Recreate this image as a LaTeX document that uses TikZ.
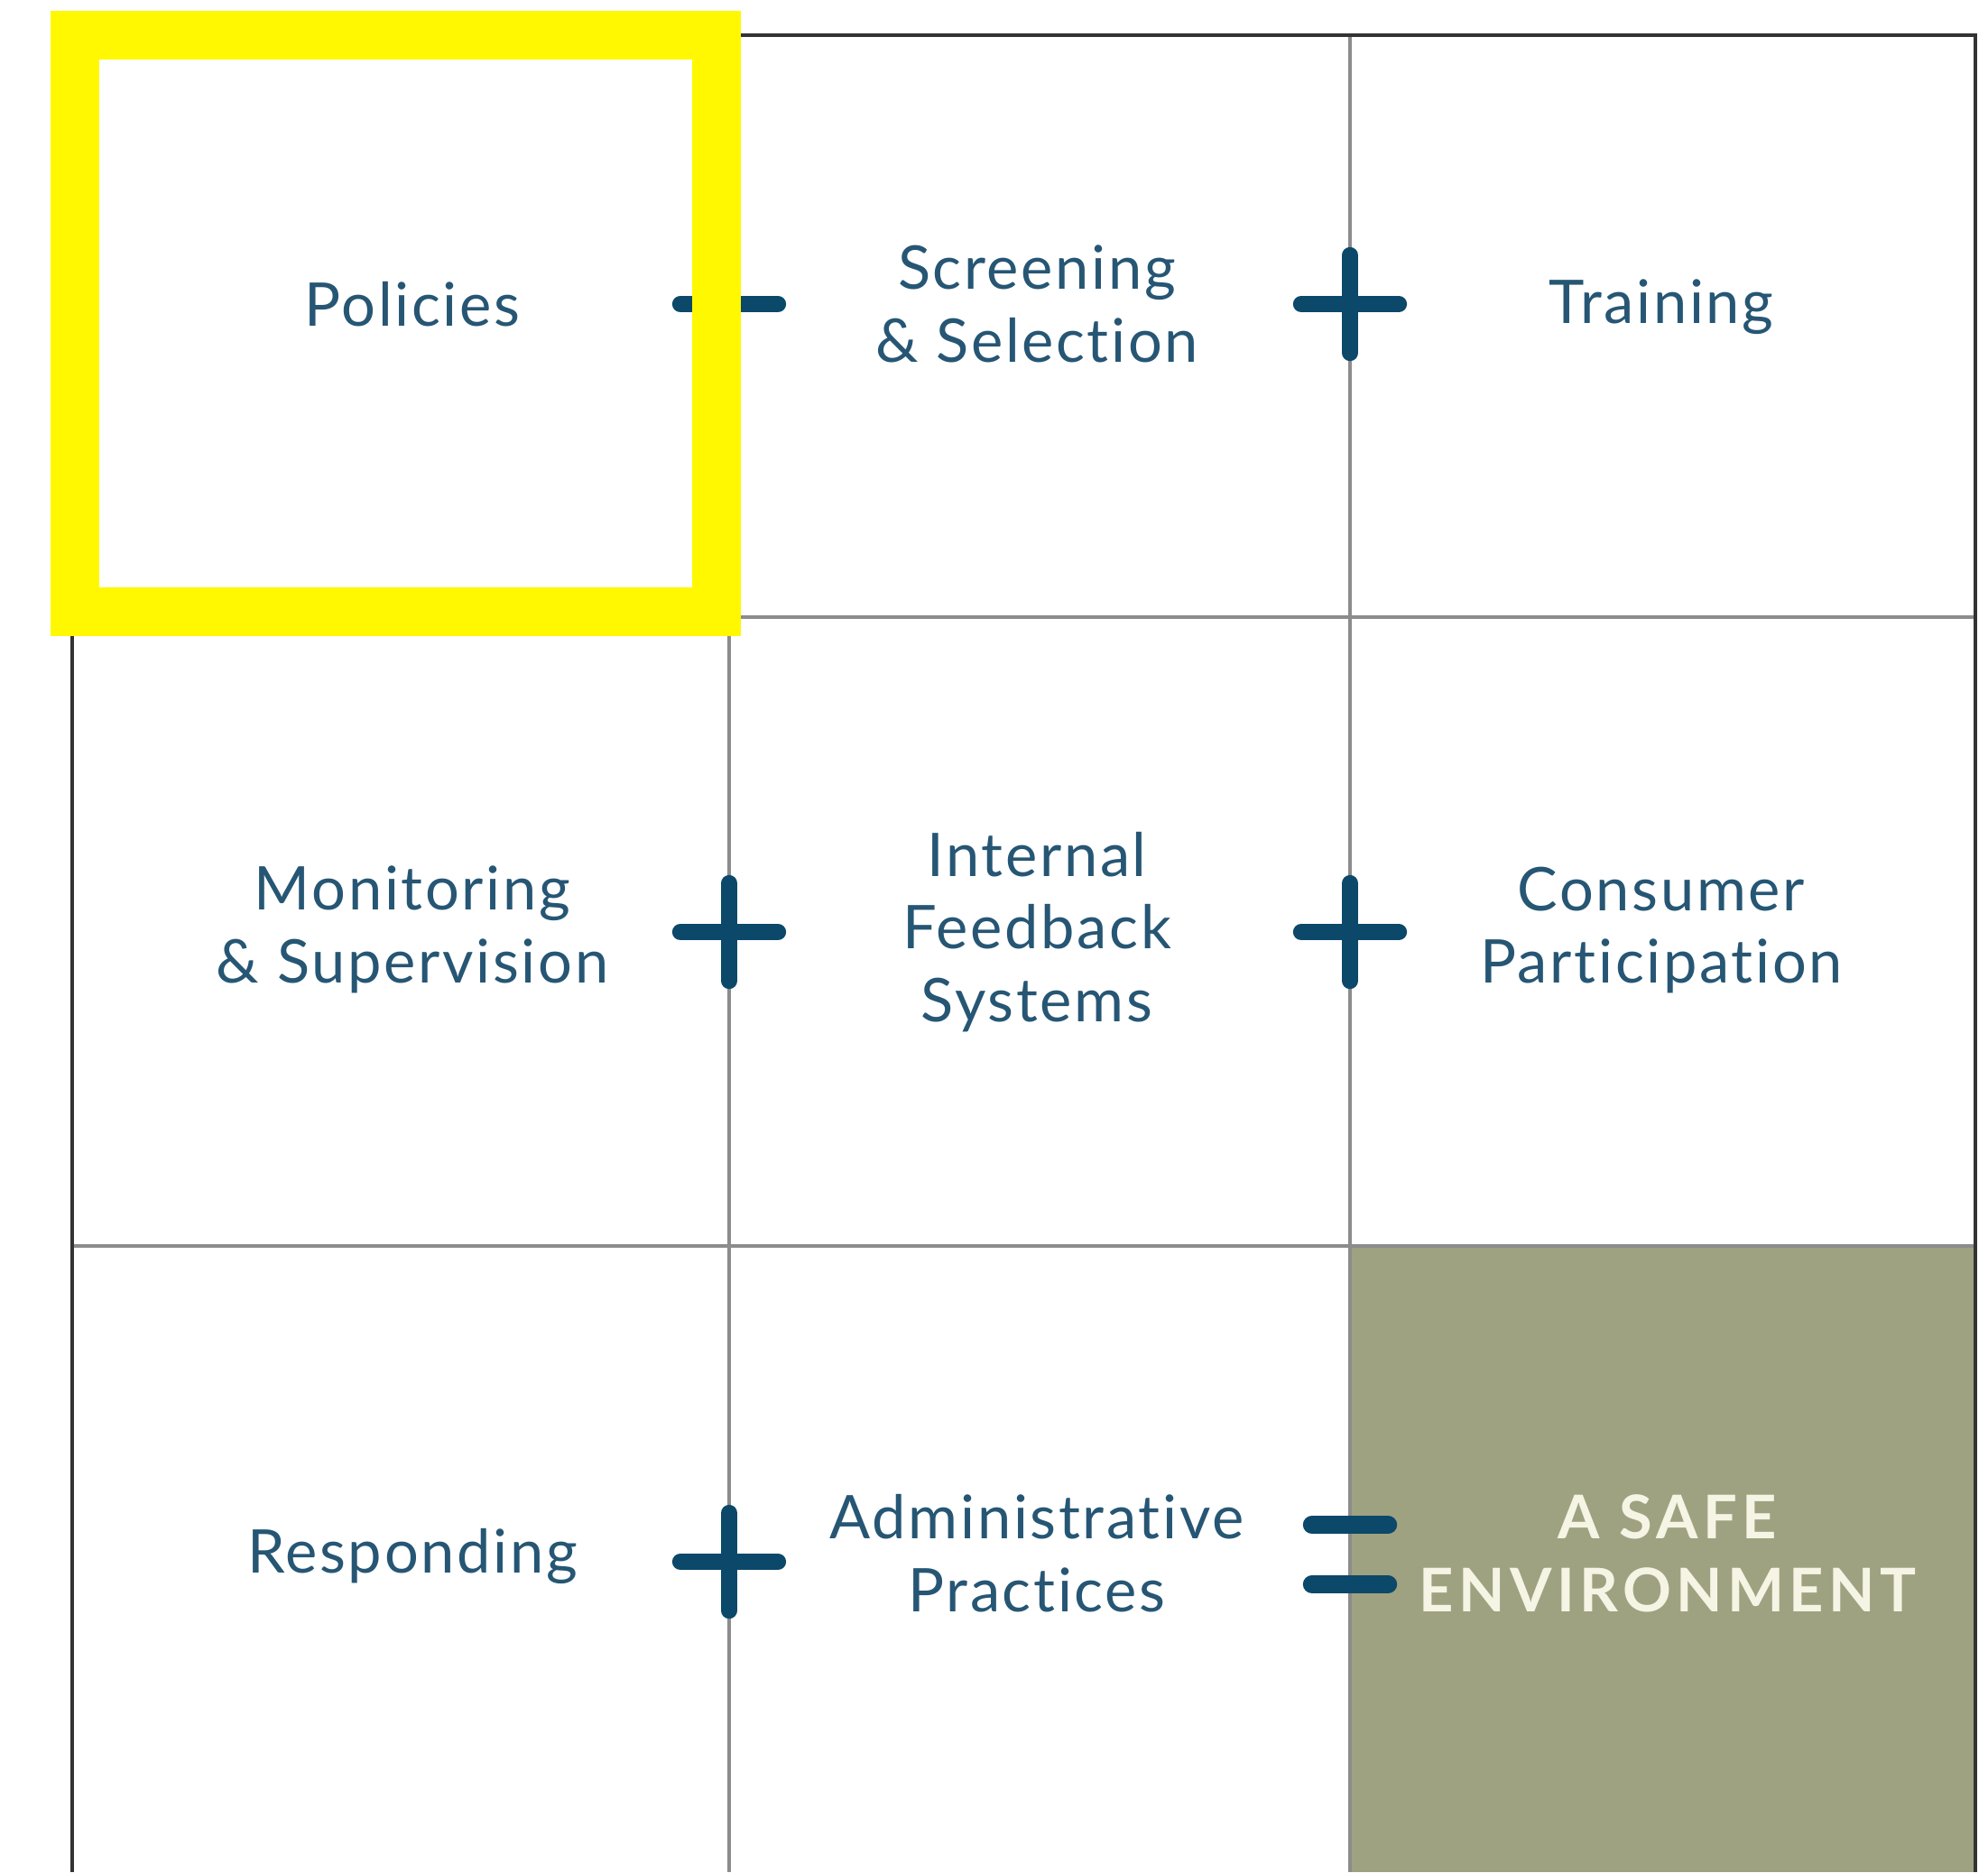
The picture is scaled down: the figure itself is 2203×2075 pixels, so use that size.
\documentclass[tikz,border=0pt]{standalone}
\usepackage{fontspec}
\setmainfont{Lato}[Ligatures=NoCommon, LetterSpace=4]
\usepackage{tikz}

\definecolor{celltext}{RGB}{38,86,116}
\definecolor{signblue}{RGB}{12,72,105}
\definecolor{olivecell}{RGB}{158,162,128}
\definecolor{safetext}{RGB}{246,244,228}
\definecolor{hilite}{RGB}{255,248,0}

\begin{document}
\begin{tikzpicture}[x=0.1mm, y=-0.1mm]
    % Canvas
    \useasboundingbox (0,0) rectangle (2203,2075);
    % Grid x positions
    \newcommand{\xleft}{80}
    \newcommand{\xone}{808}
    \newcommand{\xtwo}{1496}
    \newcommand{\xright}{2189}
    % Grid y positions
    \newcommand{\ytop}{39}
    \newcommand{\yone}{684}
    \newcommand{\ytwo}{1381}
    \newcommand{\ybottom}{2075}
    % Half length of a sign arm
    \newcommand{\arm}{54}
    % Styles
    \tikzstyle{celllabel}=[text=celltext, align=center, font=\fontsize{19}{23}\selectfont]
    \tikzstyle{innerline}=[draw=black!45, line width=1.1pt]
    \tikzstyle{outerline}=[draw=black!80, line width=0.9pt]
    \tikzstyle{signbar}=[draw=signblue, line width=5.2pt, line cap=round]

    % Result cell
    \fill[olivecell] (\xtwo,\ytwo) rectangle (\xright,\ybottom);

    % Inner lines
    \draw[innerline] (\xone,\ytop) -- (\xone,\ybottom);
    \draw[innerline] (\xtwo,\ytop) -- (\xtwo,\ybottom);
    \draw[innerline] (\xleft,\yone) -- (\xright,\yone);
    \draw[innerline] (\xleft,\ytwo) -- (\xright,\ytwo);
    % Outer lines
    \draw[outerline] (\xleft,\ybottom) -- (\xleft,\ytop) -- (\xright,\ytop) -- (\xright,\ybottom);

    % Minus
    \draw[signbar] (\xone-\arm,337) -- (\xone+\arm,337);
    % Plus signs
    \foreach \sx/\sy in {\xtwo/337, \xone/1033, \xtwo/1033, \xone/1731}
      {
        \draw[signbar] (\sx-\arm,\sy) -- (\sx+\arm,\sy)
        (\sx,\sy-\arm) -- (\sx,\sy+\arm);
      }
    % Equals
    \foreach \sy in {1690,1756}
      {
        \draw[signbar, line width=5.8pt] (\xtwo-42,\sy) -- (\xtwo+42,\sy);
      }

    % First row
    \node[celllabel] (policies) at (457,337) {Policies};
    \node[celllabel] (screening) at (1149,337) {Screening\\\& Selection};
    \node[celllabel] (training) at (1841,340) {Training};
    % Second row
    \node[celllabel] (monitoring) at (457,1030) {Monitoring\\\& Supervision};
    \node[celllabel] (feedback) at (1149,1033) {Internal\\Feedback\\Systems};
    \node[celllabel] (consumer) at (1841,1031) {Consumer\\Participation};
    % Third row
    \node[celllabel] (responding) at (457,1725) {Responding};
    \node[celllabel] (admin) at (1149,1722) {Administrative\\Practices};
    \node[celllabel, text=safetext, font=\fontsize{19}{23}\selectfont\bfseries\addfontfeature{LetterSpace=8}] (safe) at (1848,1722) {A SAFE\\ENVIRONMENT};

    % Highlight
    \draw[hilite, line width=5.4mm] (83,39) rectangle (794,678);
\end{tikzpicture}
\end{document}
